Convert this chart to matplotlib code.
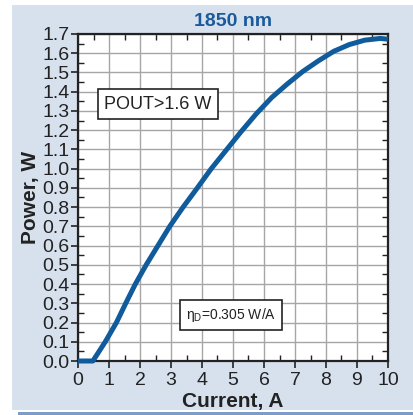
import matplotlib
matplotlib.use("Agg")
import matplotlib.pyplot as plt
from matplotlib.patches import Rectangle
from matplotlib.ticker import MultipleLocator

plt.rcParams["font.family"] = ["Liberation Sans", "DejaVu Sans"]
plt.rcParams["mathtext.fontset"] = "custom"
plt.rcParams["mathtext.rm"] = "Liberation Sans"
plt.rcParams["mathtext.it"] = "Liberation Sans"

current = [0, 0.48, 0.88, 1.24, 1.54, 1.85, 2.2, 2.58, 2.96, 3.39, 3.85, 4.3,
           4.75, 5.25, 5.75, 6.25, 6.75, 7.25, 7.75, 8.25, 8.75, 9.25, 9.75, 10.0]
power = [0, 0, 0.1, 0.2, 0.3, 0.4, 0.5, 0.6, 0.7, 0.8, 0.9, 1.0,
         1.09, 1.19, 1.285, 1.37, 1.44, 1.505, 1.56, 1.61, 1.645, 1.668, 1.677, 1.673]
xticks = list(range(0, 11))
yticks = [round(0.1 * i, 1) for i in range(18)]
title = "1850 nm"
xlabel = "Current, A"
ylabel = "Power, W"
note1 = "POUT>1.6 W"
note2 = r"$\mathrm{\eta}_\mathrm{D}$=0.305 W/A"

W, H = 413, 415
fig = plt.figure(figsize=(W / 100, H / 100), dpi=100)
fig.patch.set_facecolor("white")
fig.patches.append(Rectangle((12 / W, 1 - 410 / H), 1 - 12 / W, (410 - 5) / H,
                             transform=fig.transFigure, facecolor="#d7e1ee",
                             edgecolor="none", zorder=-10))
fig.patches.append(Rectangle((18 / W, 0), 1 - 18 / W, 3 / H,
                             transform=fig.transFigure, facecolor="#7e9cc8",
                             edgecolor="none", zorder=-10))

ax = fig.add_axes([78 / W, 1 - 361 / H, (388 - 78) / W, (361 - 34) / H])
ax.set_facecolor("white")
ax.plot(current, power, color="#0f5b9c", lw=3.6, solid_capstyle="butt",
        solid_joinstyle="round", zorder=3, clip_on=False)
ax.set_xlim(0, 10)
ax.set_ylim(0, 1.7)
ax.set_xticks(xticks)
ax.set_yticks(yticks)
ax.set_yticklabels([f"{v:.1f}" for v in yticks])
ax.xaxis.set_minor_locator(MultipleLocator(0.5))
ax.yaxis.set_minor_locator(MultipleLocator(0.05))
ax.grid(True, which="major", color="#a6a6a6", lw=1)
ax.set_axisbelow(True)
ax.tick_params(which="major", direction="out", length=5, width=1.2,
               labelsize=14, colors="#222222", pad=1)
ax.tick_params(axis="x", which="major", pad=3)
ax.tick_params(which="minor", direction="in", length=4, width=1,
               top=True, right=True, colors="#222222")
for s in ax.spines.values():
    s.set_linewidth(1.6)
    s.set_color("#222222")

ax.set_title(title, color="#1a5a9a", fontsize=14, fontweight="bold", pad=6)
ax.set_xlabel(xlabel, fontsize=15, fontweight="bold", color="#222222", labelpad=2)
ax.set_ylabel(ylabel, fontsize=15, fontweight="bold", color="#222222", labelpad=2)

ax.text(2.58, 1.336, note1, fontsize=13, ha="center", va="center", color="#222222",
        bbox=dict(boxstyle="square,pad=0.35", facecolor="white", edgecolor="#222222", lw=1.2),
        zorder=5)
ax.text(4.94, 0.24, note2, fontsize=10, ha="center", va="center", color="#222222",
        bbox=dict(boxstyle="square,pad=0.45", facecolor="white", edgecolor="#222222", lw=1.2),
        zorder=5)

fig.savefig("out.png", dpi=100)
